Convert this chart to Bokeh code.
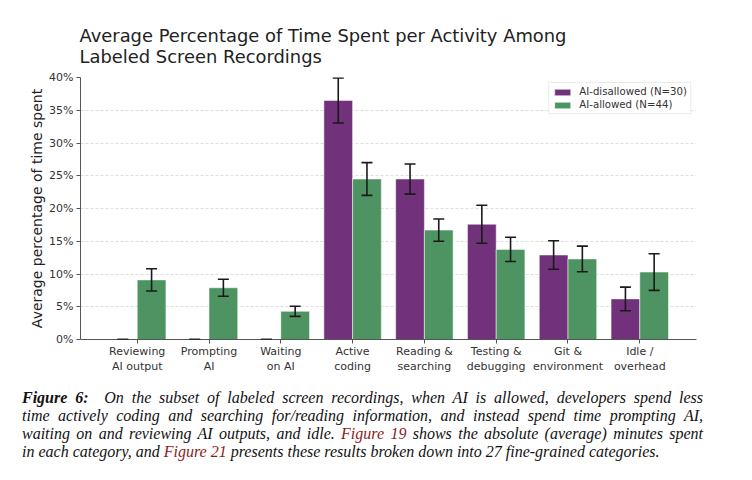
import numpy as np
from bokeh.plotting import figure
from bokeh.models import (ColumnDataSource, Range1d, FixedTicker, Whisker, TeeHead,
                          Legend, LegendItem, Div, PrintfTickFormatter)
from bokeh.layouts import column
from bokeh.embed import file_html
from bokeh.resources import INLINE

categories = ["Reviewing\nAI output", "Prompting\nAI", "Waiting\non AI", "Active\ncoding",
              "Reading &\nsearching", "Testing &\ndebugging", "Git &\nenvironment", "Idle /\noverhead"]
disallowed = [0.0, 0.0, 0.0, 36.5, 24.5, 17.6, 12.9, 6.2]
disallowed_err = [0.0, 0.0, 0.0, 3.45, 2.3, 2.9, 2.17, 1.8]
allowed = [9.1, 7.9, 4.3, 24.5, 16.7, 13.75, 12.3, 10.3]
allowed_err = [1.7, 1.3, 0.77, 2.5, 1.7, 1.85, 1.95, 2.8]
y_ticks = [0, 5, 10, 15, 20, 25, 30, 35, 40]
series_names = ["AI-disallowed (N=30)", "AI-allowed (N=44)"]

PURPLE = "#71317b"
GREEN = "#4e9462"
BAR_W = 0.4

idx = np.arange(len(categories), dtype=float)

src_d = ColumnDataSource(dict(
    x=idx - BAR_W / 2, top=disallowed,
    upper=np.array(disallowed) + np.array(disallowed_err),
    lower=np.array(disallowed) - np.array(disallowed_err)))
src_a = ColumnDataSource(dict(
    x=idx + BAR_W / 2, top=allowed,
    upper=np.array(allowed) + np.array(allowed_err),
    lower=np.array(allowed) - np.array(allowed_err)))

p = figure(width=744, height=388, output_backend="svg", toolbar_location=None,
           x_range=Range1d(-0.79, len(categories) - 1 + 0.79),
           y_range=Range1d(0, 40),
           min_border_left=80, min_border_right=48, min_border_top=77, min_border_bottom=49,
           title="Average Percentage of Time Spent per Activity Among\nLabeled Screen Recordings")
p.title.text_font = "DejaVu Sans"
p.title.text_font_size = "17.9px"
p.title.text_font_style = "normal"
p.title.text_color = "#222222"
p.title.align = "left"
p.title.offset = -1
p.title.standoff = 22
p.outline_line_color = None
p.background_fill_color = "white"

rd = p.vbar(x="x", top="top", width=BAR_W, source=src_d, fill_color=PURPLE,
            line_color="white", line_alpha=0.5, line_width=1)
ra = p.vbar(x="x", top="top", width=BAR_W, source=src_a, fill_color=GREEN,
            line_color="white", line_alpha=0.5, line_width=1)

for src in (src_d, src_a):
    w = Whisker(source=src, base="x", upper="upper", lower="lower", dimension="height",
                line_color="#1a1a1a", line_width=1.6, level="overlay",
                upper_head=TeeHead(size=11, line_color="#1a1a1a", line_width=1.6),
                lower_head=TeeHead(size=11, line_color="#1a1a1a", line_width=1.6))
    p.add_layout(w)

# axes
p.xaxis.ticker = FixedTicker(ticks=list(idx))
overrides = {float(i): c for i, c in zip(idx, categories)}
overrides.update({int(i): c for i, c in zip(range(len(categories)), categories)})
p.xaxis.major_label_overrides = overrides
p.yaxis.ticker = FixedTicker(ticks=y_ticks)
p.yaxis.formatter = PrintfTickFormatter(format="%d%%")
p.yaxis.axis_label = "Average percentage of time spent"
p.yaxis.axis_label_text_font = "DejaVu Sans"
p.yaxis.axis_label_text_font_size = "14px"
p.yaxis.axis_label_text_font_style = "normal"
p.yaxis.axis_label_text_color = "#222222"
p.yaxis.axis_label_standoff = 1
for ax in (p.xaxis, p.yaxis):
    ax.axis_line_color = "#555555"
    ax.axis_line_width = 1
    ax.major_tick_line_color = "#555555"
    ax.major_tick_out = 4
    ax.major_tick_in = 0
    ax.minor_tick_line_color = None
    ax.major_label_text_font = "DejaVu Sans"
    ax.major_label_text_font_size = "11px"
    ax.major_label_text_color = "#333333"
p.xaxis.major_label_standoff = 1
p.yaxis.major_label_standoff = 3

p.xgrid.grid_line_color = None
p.ygrid.grid_line_color = "#dddddd"
p.ygrid.grid_line_dash = "3 2"
p.ygrid.grid_line_width = 1

legend = Legend(items=[LegendItem(label=series_names[0], renderers=[rd]),
                       LegendItem(label=series_names[1], renderers=[ra])],
                location="top_right")
legend.margin = 5
legend.padding = 3
legend.spacing = 2
legend.glyph_width = 20
legend.glyph_height = 8
legend.label_height = 11
legend.label_text_font = "DejaVu Sans"
legend.label_text_font_size = "10.2px"
legend.label_text_color = "#333333"
legend.label_standoff = 7
legend.border_line_color = "#d8d8d8"
legend.border_line_width = 1
legend.background_fill_alpha = 0.9
p.add_layout(legend)

RED = "#8b1c1c"
line_style = ("font-family:'Liberation Serif',serif;font-style:italic;font-size:16px;"
              "line-height:18px;color:#111;width:681px;display:block;")
lines = [
    "<b>Figure 6:</b>&nbsp; On the subset of labeled screen recordings, when AI is allowed, developers spend less",
    "time actively coding and searching for/reading information, and instead spend time prompting AI,",
    f"waiting on and reviewing AI outputs, and idle. <span style='color:{RED}'>Figure 19</span> shows the absolute (average) minutes spent",
    f"in each category, and <span style='color:{RED}'>Figure 21</span> presents these results broken down into 27 fine-grained categories.",
]
html = ""
for k, ln in enumerate(lines):
    last = "left" if k == len(lines) - 1 else "justify"
    html += (f"<div style=\"{line_style}text-align:justify;text-align-last:{last};\">{ln}</div>")
div = Div(text=html, width=690, margin=(1, 0, 0, 22))

layout = column(p, div, spacing=0)
open("out.html", "w").write(file_html(layout, INLINE))
